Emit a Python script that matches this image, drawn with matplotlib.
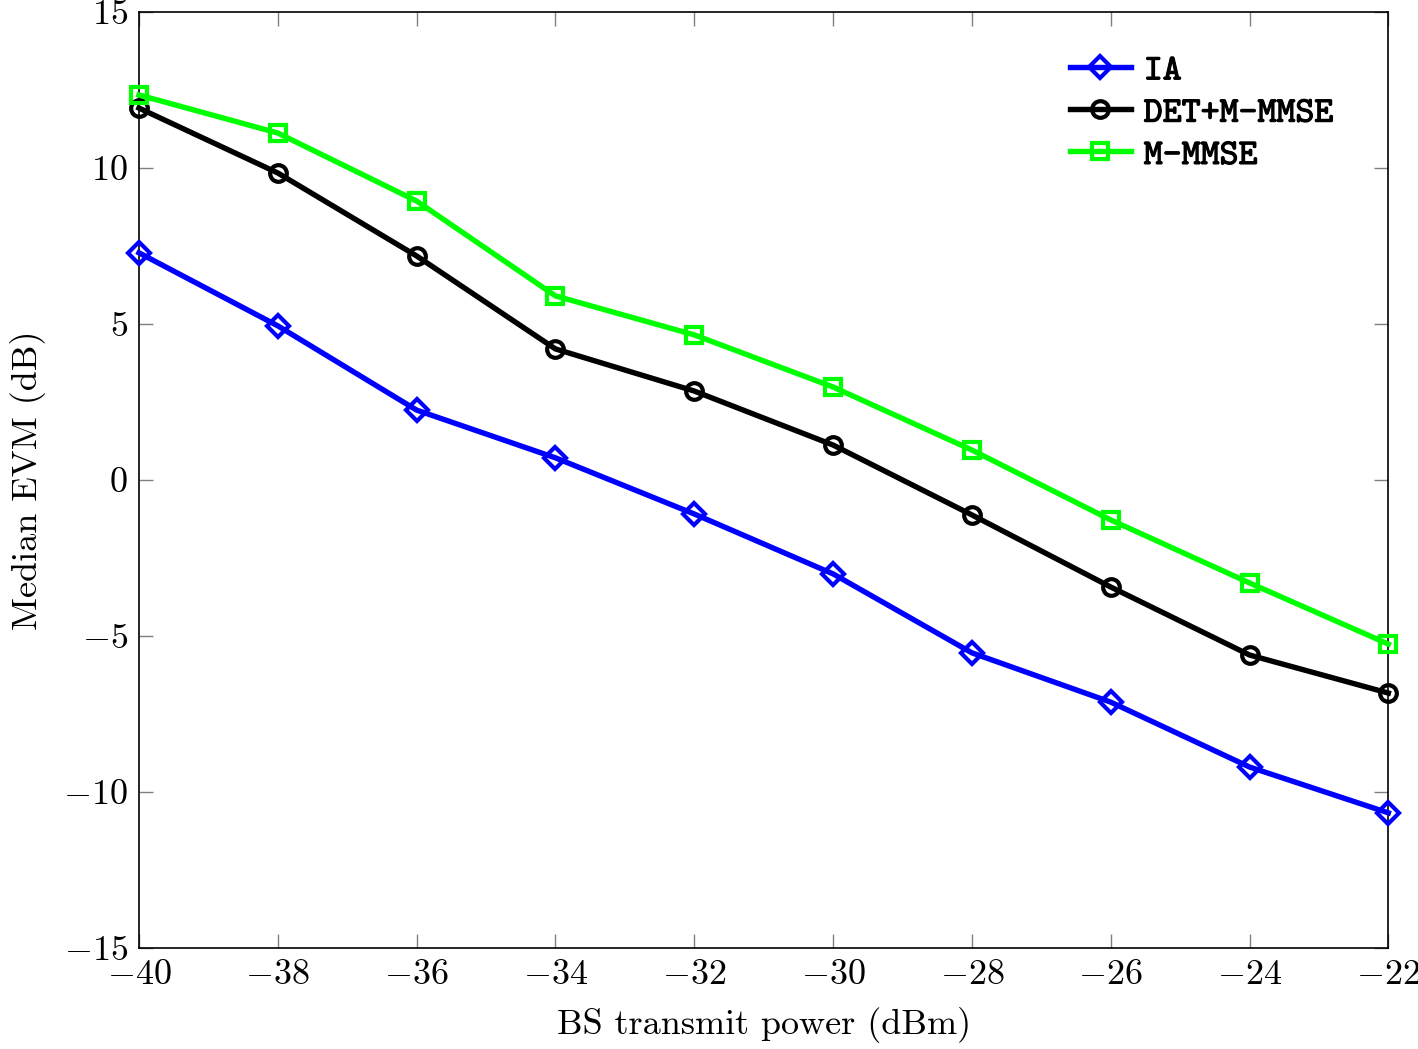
import matplotlib
matplotlib.use("Agg")
import matplotlib.pyplot as plt
import matplotlib.patheffects as pe

# data
power_dbm = [-40, -38, -36, -34, -32, -30, -28, -26, -24, -22]
evm_ia = [7.28, 4.94, 2.24, 0.71, -1.09, -3.01, -5.54, -7.12, -9.2, -10.67]
evm_det = [11.92, 9.84, 7.18, 4.2, 2.85, 1.12, -1.12, -3.43, -5.61, -6.83]
evm_mmmse = [12.34, 11.12, 8.94, 5.9, 4.65, 2.98, 0.96, -1.28, -3.3, -5.26]

plt.rcParams["font.family"] = "cmr10"
plt.rcParams["mathtext.fontset"] = "cm"
plt.rcParams["axes.formatter.use_mathtext"] = True

fig = plt.figure(figsize=(14.18, 10.49), dpi=100)
ax = fig.add_axes([0.098, 0.0963, 0.8811, 0.8923])

style = dict(lw=3.9, markeredgewidth=3, markerfacecolor="none", clip_on=False, zorder=3)
ax.plot(power_dbm, evm_ia, color="#0000ff", marker="D", markersize=11, label="IA", **style)
ax.plot(power_dbm, evm_det, color="black", marker="o", markersize=12, label="DET+M-MMSE", **style)
ax.plot(power_dbm, evm_mmmse, color="#00ff00", marker="s", markersize=11, label="M-MMSE", **style)

ax.set_xlim(-40, -22)
ax.set_ylim(-15, 15)
ax.set_xticks(power_dbm)
ax.set_yticks([-15, -10, -5, 0, 5, 10, 15])
ax.tick_params(direction="in", length=10, width=1, color="gray", labelsize=26,
               top=True, right=True, pad=8)
for s in ax.spines.values():
    s.set_linewidth(1.2)

ax.set_xlabel("BS transmit power (dBm)", fontsize=26, labelpad=12)
ax.set_ylabel("Median EVM (dB)", fontsize=26, labelpad=12)

leg = ax.legend(loc="upper right", bbox_to_anchor=(0.956, 0.955), frameon=False,
                prop={"family": "cmtt10", "size": 26}, borderaxespad=0, borderpad=0,
                handlelength=1.7, handletextpad=0.35, labelspacing=0.25)
# typewriter labels in the reference look a bit heavier
for t in leg.get_texts():
    t.set_path_effects([pe.withStroke(linewidth=0.8, foreground="black")])

fig.savefig("out.png", dpi=100)
